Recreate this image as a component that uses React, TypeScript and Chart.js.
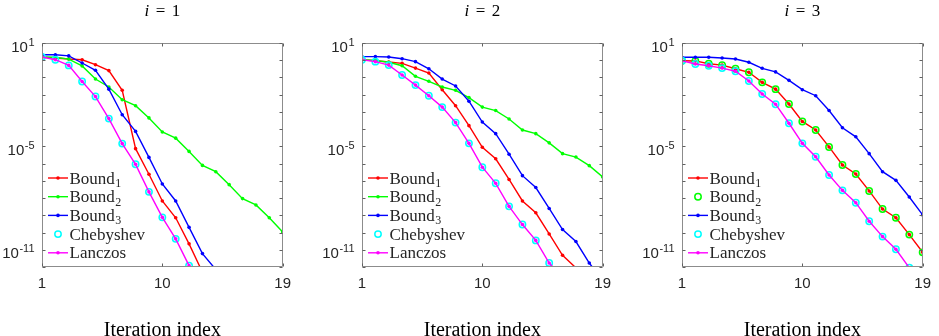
import React, { useEffect, useRef } from "react";
import { Chart, registerables } from "chart.js";

Chart.register(...registerables);

// ---------- data ----------
const iterations = [1, 2, 3, 4, 5, 6, 7, 8, 9, 10, 11, 12, 13, 14, 15, 16, 17, 18, 19];
const xTickValues = [1, 10, 19];
const yLabelExponents = [1, -5, -11];
const yDecadeExponents = [1, 0, -1, -2, -3, -4, -5, -6, -7, -8, -9, -10, -11, -12];
const panelTitles = ["1", "2", "3"];
const xAxisLabel = "Iteration index";

// panel i = 1
const bound1P1 = [1.5, 1.35, 1.17, 1.07, 0.55, 0.25, 1.8e-2, 7.4e-6, 2.4e-7, 6.8e-9, 7.2e-10, 2.2e-11, 5e-13];
const bound2P1 = [1.55, 1.48, 1.17, 0.47, 8.1e-2, 2.8e-2, 5.1e-3, 2.3e-3, 4.5e-4, 6.9e-5, 3.0e-5, 5.1e-6, 7.9e-7, 3.4e-7, 6.0e-8, 9.3e-9, 4.0e-9, 7.2e-10, 1.07e-10];
const bound3P1 = [2.1, 2.1, 1.8, 0.69, 0.26, 2.1e-2, 6.9e-4, 7.4e-5, 2.3e-6, 6.6e-8, 6.8e-9, 2.0e-10, 6.0e-12, 7.1e-13];
const chebyshevP1 = [1.55, 1.07, 0.5, 5.8e-2, 7.8e-3, 4.1e-4, 1.45e-5, 9.1e-7, 2.3e-8, 7.6e-10, 4.3e-11, 1.2e-12];
const lanczosP1 = [1.55, 1.07, 0.5, 5.8e-2, 7.8e-3, 4.1e-4, 1.45e-5, 9.1e-7, 2.3e-8, 7.6e-10, 4.3e-11, 1.2e-12];

// panel i = 2
const bound1P2 = [1.07, 0.93, 0.79, 0.66, 0.35, 0.18, 1.95e-2, 2.3e-3, 1.6e-4, 8.9e-6, 1.9e-6, 1.2e-7, 6.8e-9, 1.4e-9, 8.3e-11, 4.8e-12, 8.9e-13];
const bound2P2 = [1.07, 0.98, 0.76, 0.48, 0.117, 6.0e-2, 2.8e-2, 1.8e-2, 6.8e-3, 1.9e-3, 1.2e-3, 3.9e-4, 8.9e-5, 5.5e-5, 1.6e-5, 3.8e-6, 2.4e-6, 7.6e-7, 1.7e-7];
const bound3P2 = [1.62, 1.62, 1.55, 1.23, 0.83, 0.32, 8.1e-2, 3.2e-2, 4.2e-3, 2.6e-4, 5.5e-5, 3.5e-6, 2.0e-7, 4.1e-8, 2.5e-9, 1.5e-10, 3.0e-11, 1.7e-12, 1.6e-13];
const chebyshevP2 = [1.07, 0.83, 0.52, 0.138, 3.6e-2, 8.7e-3, 1.9e-3, 2.4e-4, 1.5e-5, 6.2e-7, 7.2e-8, 3.3e-9, 2.9e-10, 3.5e-11, 1.7e-12, 2.5e-13];
const lanczosP2 = [1.07, 0.83, 0.52, 0.138, 3.6e-2, 8.7e-3, 1.9e-3, 2.4e-4, 1.5e-5, 6.2e-7, 7.2e-8, 3.3e-9, 2.9e-10, 3.5e-11, 1.7e-12, 2.5e-13];

// panel i = 3
const bound1P3 = [0.93, 0.91, 0.63, 0.52, 0.32, 0.2, 5.2e-2, 2.1e-2, 2.9e-3, 2.8e-4, 8.9e-5, 9.3e-6, 8.3e-7, 2.5e-7, 2.6e-8, 2.3e-9, 7.2e-10, 7.6e-11, 7.1e-12];
const bound2P3 = [0.93, 0.91, 0.63, 0.52, 0.32, 0.2, 5.2e-2, 2.1e-2, 2.9e-3, 2.8e-4, 8.9e-5, 9.3e-6, 8.3e-7, 2.5e-7, 2.6e-8, 2.3e-9, 7.2e-10, 7.6e-11, 7.1e-12];
const bound3P3 = [1.48, 1.48, 1.48, 1.35, 1.17, 0.76, 0.34, 0.21, 6.8e-2, 1.95e-2, 8.7e-3, 1.2e-3, 1.2e-4, 3.6e-5, 3.8e-6, 3.4e-7, 1.07e-7, 1.15e-8, 1.05e-9];
const chebyshevP3 = [0.93, 0.6, 0.48, 0.35, 0.23, 6.2e-2, 1.1e-2, 2.8e-3, 2.2e-4, 1.5e-5, 2.5e-6, 2.2e-7, 2.8e-8, 5.4e-9, 4.5e-10, 5.8e-11, 1.07e-11, 9e-13];
const lanczosP3 = [0.93, 0.6, 0.48, 0.35, 0.23, 6.2e-2, 1.1e-2, 2.8e-3, 2.2e-4, 1.5e-5, 2.5e-6, 2.2e-7, 2.8e-8, 5.4e-9, 4.5e-10, 5.8e-11, 1.07e-11, 9e-13];

// ---------- styles ----------
const RED = "#ff0000";
const GREEN = "#00ff00";
const BLUE = "#0000ff";
const CYAN = "#00ffff";
const MAGENTA = "#ff00ff";

type Series = {
  name: string;
  sub: string;
  color: string;
  values: number[];
  kind: "line" | "circle";
};

const panels: Series[][] = [
  [
    { name: "Bound", sub: "1", color: RED, values: bound1P1, kind: "line" },
    { name: "Bound", sub: "2", color: GREEN, values: bound2P1, kind: "line" },
    { name: "Bound", sub: "3", color: BLUE, values: bound3P1, kind: "line" },
    { name: "Chebyshev", sub: "", color: CYAN, values: chebyshevP1, kind: "circle" },
    { name: "Lanczos", sub: "", color: MAGENTA, values: lanczosP1, kind: "line" },
  ],
  [
    { name: "Bound", sub: "1", color: RED, values: bound1P2, kind: "line" },
    { name: "Bound", sub: "2", color: GREEN, values: bound2P2, kind: "line" },
    { name: "Bound", sub: "3", color: BLUE, values: bound3P2, kind: "line" },
    { name: "Chebyshev", sub: "", color: CYAN, values: chebyshevP2, kind: "circle" },
    { name: "Lanczos", sub: "", color: MAGENTA, values: lanczosP2, kind: "line" },
  ],
  [
    { name: "Bound", sub: "1", color: RED, values: bound1P3, kind: "line" },
    { name: "Bound", sub: "2", color: GREEN, values: bound2P3, kind: "circle" },
    { name: "Bound", sub: "3", color: BLUE, values: bound3P3, kind: "line" },
    { name: "Chebyshev", sub: "", color: CYAN, values: chebyshevP3, kind: "circle" },
    { name: "Lanczos", sub: "", color: MAGENTA, values: lanczosP3, kind: "line" },
  ],
];

const CANVAS_W = 299;
const CANVAS_H = 336;
const canvasLefts = [0, 320, 640];
const LINE_W = 1.4;
const DOT_R = 1.8;
const CIRCLE_R = 3.2;

const SERIF = '"Liberation Serif", "Times New Roman", serif';
const SANS = '"Liberation Sans", Arial, sans-serif';

function makeDataset(s: Series, idx: number) {
  const data = s.values.map((v, i) => ({ x: iterations[i], y: v }));
  const base: any = {
    label: s.name + s.sub,
    data,
    order: 10 - idx,
    clip: 0,
  };
  if (s.kind === "circle") {
    return {
      ...base,
      showLine: false,
      pointStyle: "circle",
      pointRadius: CIRCLE_R,
      pointHoverRadius: CIRCLE_R,
      pointBorderColor: s.color,
      pointBackgroundColor: "rgba(0,0,0,0)",
      pointBorderWidth: 1.5,
      borderColor: s.color,
      backgroundColor: "rgba(0,0,0,0)",
    };
  }
  return {
    ...base,
    showLine: true,
    borderColor: s.color,
    backgroundColor: s.color,
    borderWidth: LINE_W,
    pointStyle: "circle",
    pointRadius: DOT_R,
    pointHoverRadius: DOT_R,
    pointBorderWidth: 0,
    pointBackgroundColor: s.color,
    tension: 0,
  };
}

function makeDecorPlugin(series: Series[], title: string) {
  return {
    id: "decor",
    afterDraw(chart: any) {
      const { ctx, chartArea: a, scales } = chart;
      const x = scales.x;
      const y = scales.y;
      const L = Math.round(a.left) + 0.5;
      const R = Math.round(a.right) - 0.5;
      const T = Math.round(a.top) + 0.5;
      const B = Math.round(a.bottom) - 0.5;
      ctx.save();

      // frame
      ctx.strokeStyle = "#8c8c8c";
      ctx.lineWidth = 1;
      ctx.beginPath();
      ctx.rect(L, T, R - L, B - T);
      ctx.stroke();

      // inner tick marks
      const TL = 3;
      ctx.strokeStyle = "#606060";
      ctx.beginPath();
      for (const v of xTickValues) {
        const px = Math.round(x.getPixelForValue(v)) + 0.5;
        ctx.moveTo(px, B);
        ctx.lineTo(px, B - TL);
        ctx.moveTo(px, T);
        ctx.lineTo(px, T + TL);
      }
      for (const e of yDecadeExponents) {
        const py = Math.round(y.getPixelForValue(Math.pow(10, e))) + 0.5;
        ctx.moveTo(L, py);
        ctx.lineTo(L + TL, py);
        ctx.moveTo(R, py);
        ctx.lineTo(R - TL, py);
      }
      ctx.stroke();

      // y tick labels 10^e
      ctx.fillStyle = "#262626";
      ctx.textBaseline = "alphabetic";
      ctx.textAlign = "left";
      for (const e of yLabelExponents) {
        const py = y.getPixelForValue(Math.pow(10, e));
        const expText = String(e);
        ctx.font = "15px " + SANS;
        const w1 = ctx.measureText("10").width;
        ctx.font = "11px " + SANS;
        const w2 = ctx.measureText(expText).width;
        const xr = a.left - 8;
        const xs = xr - w1 - w2;
        ctx.font = "15px " + SANS;
        ctx.fillText("10", xs, py + 8.5);
        ctx.font = "11px " + SANS;
        ctx.fillText(expText, xs + w1 + 0.5, py + 2.5);
      }

      // title  "i = k"
      const cx = (a.left + a.right) / 2;
      ctx.fillStyle = "#000";
      const TF = 17;
      ctx.font = "italic " + TF + "px " + SERIF;
      const wi = ctx.measureText("i").width;
      ctx.font = TF + "px " + SERIF;
      const weq = ctx.measureText("=").width;
      const wn = ctx.measureText(title).width;
      const gap = 6.5;
      const total = wi + gap + weq + gap + wn;
      let tx = cx - total / 2;
      const tb = 15.5;
      ctx.font = "italic " + TF + "px " + SERIF;
      ctx.fillText("i", tx, tb);
      tx += wi + gap;
      ctx.font = TF + "px " + SERIF;
      ctx.fillText("=", tx, tb);
      tx += weq + gap;
      ctx.fillText(title, tx, tb);

      // x axis label
      ctx.font = "20px " + SERIF;
      ctx.textAlign = "center";
      ctx.fillText(xAxisLabel, cx, 335.5);
      ctx.textAlign = "left";

      // legend
      const rowY0 = 178;
      const rowStep = 18.7;
      const sx0 = a.left + 6;
      const sx1 = a.left + 26;
      const smid = (sx0 + sx1) / 2;
      const textX = a.left + 27.5;
      series.forEach((s, k) => {
        const ry = rowY0 + k * rowStep;
        if (s.kind === "circle") {
          ctx.strokeStyle = s.color;
          ctx.lineWidth = 1.5;
          ctx.beginPath();
          ctx.arc(smid, ry, CIRCLE_R, 0, Math.PI * 2);
          ctx.stroke();
        } else {
          ctx.strokeStyle = s.color;
          ctx.lineWidth = LINE_W;
          ctx.beginPath();
          ctx.moveTo(sx0, ry);
          ctx.lineTo(sx1, ry);
          ctx.stroke();
          ctx.fillStyle = s.color;
          ctx.beginPath();
          ctx.arc(smid, ry, DOT_R, 0, Math.PI * 2);
          ctx.fill();
        }
        ctx.fillStyle = "#262626";
        ctx.font = "17px " + SERIF;
        ctx.fillText(s.name, textX, ry + 5.5);
        if (s.sub) {
          const wName = ctx.measureText(s.name).width;
          ctx.font = "12px " + SERIF;
          ctx.fillText(s.sub, textX + wName + 0.5, ry + 9);
        }
      });

      ctx.restore();
    },
  };
}

function Panel({ index }: { index: number }) {
  const ref = useRef<HTMLCanvasElement | null>(null);
  useEffect(() => {
    const canvas = ref.current;
    if (!canvas) return;
    const series = panels[index];
    const chart = new Chart(canvas, {
      type: "scatter",
      data: { datasets: series.map((s, i) => makeDataset(s, i)) as any },
      options: {
        responsive: false,
        animation: false,
        devicePixelRatio: 1,
        layout: { padding: { top: 43, right: 11, left: 0, bottom: 0 } },
        plugins: { legend: { display: false }, tooltip: { enabled: false }, title: { display: false } },
        events: [],
        scales: {
          x: {
            type: "linear",
            min: 1,
            max: 19,
            grid: { display: false, drawTicks: false },
            border: { display: false },
            afterBuildTicks: (scale: any) => {
              scale.ticks = xTickValues.map((v) => ({ value: v }));
            },
            afterFit: (scale: any) => {
              scale.height = 69;
            },
            ticks: {
              autoSkip: false,
              maxRotation: 0,
              padding: 8,
              color: "#262626",
              font: { family: SANS, size: 15 },
              callback: (v: any) => String(v),
            },
          },
          y: {
            type: "logarithmic",
            min: 1e-12,
            max: 10,
            grid: { display: false, drawTicks: false },
            border: { display: false },
            ticks: { display: false },
            afterFit: (scale: any) => {
              scale.width = 42;
            },
          },
        },
      } as any,
      plugins: [makeDecorPlugin(series, panelTitles[index])],
    });
    return () => chart.destroy();
  }, [index]);
  return (
    <canvas
      ref={ref}
      width={CANVAS_W}
      height={CANVAS_H}
      style={{ position: "absolute", left: canvasLefts[index], top: 0, width: CANVAS_W, height: CANVAS_H }}
    />
  );
}

export default function App() {
  return (
    <div
      style={{
        position: "fixed",
        left: 0,
        top: 0,
        width: 939,
        height: 336,
        background: "#ffffff",
        overflow: "hidden",
      }}
    >
      <Panel index={0} />
      <Panel index={1} />
      <Panel index={2} />
    </div>
  );
}
